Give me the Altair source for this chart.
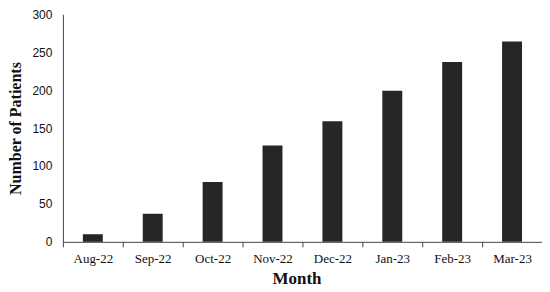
import altair as alt
import pandas as pd

months = ["Aug-22", "Sep-22", "Oct-22", "Nov-22", "Dec-22", "Jan-23", "Feb-23", "Mar-23"]
patients = [10, 37, 79, 127, 159, 199, 237, 264]

df = pd.DataFrame({"Month": months, "Patients": patients})

chart = alt.Chart(df).mark_bar(
    color="#262626", width=alt.RelativeBandSize(0.333)
).encode(
    x=alt.X("Month:N", sort=months,
            scale=alt.Scale(paddingInner=0, paddingOuter=0),
            axis=alt.Axis(title="Month", labelAngle=0, tickBand="extent",
                          labelFont="Liberation Serif", labelFontSize=13,
                          labelColor="#111", labelPadding=6,
                          tickSize=5, tickColor="#444", domainColor="#444",
                          titleFont="Liberation Serif", titleFontSize=17,
                          titleFontWeight="bold", titleColor="#111",
                          titlePadding=5, titleX=234, grid=False)),
    y=alt.Y("Patients:Q", scale=alt.Scale(domain=[0, 300], nice=False),
            axis=alt.Axis(title="Number of Patients", values=[0, 50, 100, 150, 200, 250, 300],
                          ticks=False, labelFont="Liberation Sans", labelFontSize=12,
                          labelColor="#111", labelPadding=11,
                          domainColor="#444", grid=False,
                          titleFont="Liberation Serif", titleFontSize=16,
                          titleFontWeight="bold", titleColor="#111",
                          titlePadding=8)),
).properties(
    width=480, height=228,
    autosize=alt.AutoSizeParams(type="none"),
    padding={"left": 55, "top": 6, "right": 0, "bottom": 50},
).configure_view(stroke=None)

chart.save("out.html", embed_options={"renderer": "svg", "actions": False})
